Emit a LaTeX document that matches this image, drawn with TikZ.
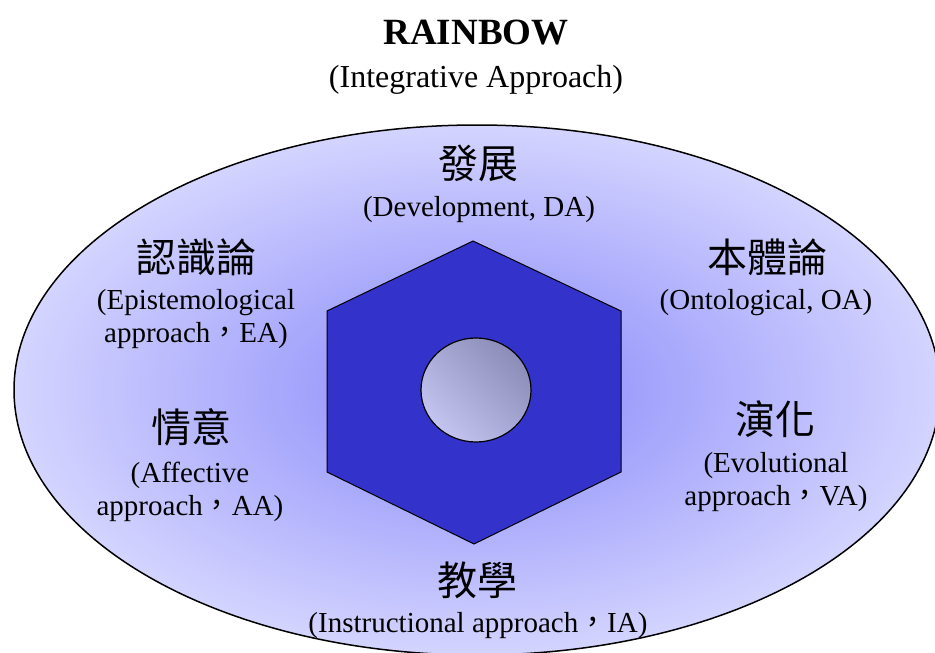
\documentclass[tikz,border=0pt]{standalone}
\usepackage{fontspec}
\setmainfont{Liberation Serif}
\newfontfamily\cjk{Noto Sans CJK TC}
\usetikzlibrary{positioning}

\definecolor{ringin}{RGB}{135,135,250}
\definecolor{ringout}{RGB}{212,212,255}
\definecolor{hexblue}{RGB}{51,51,204}
\definecolor{coreA}{RGB}{196,196,240}
\definecolor{coreB}{RGB}{140,140,184}

\begin{document}
\begin{tikzpicture}[x=1pt,y=-1pt,
    zh/.style={font=\cjk\fontsize{40}{42}\selectfont},
    en/.style={font=\fontsize{29}{33}\selectfont, align=center}]
  \useasboundingbox (0,0) rectangle (935,653);
  \clip (0,0) rectangle (935,653);
  % title
  \node (title) at (476,33) {\fontsize{37}{40}\selectfont\bfseries RAINBOW};
  \node (subtitle) at (476,80) {\fontsize{32}{36}\selectfont (Integrative Approach)};
  % outer ring and hexagon
  \draw[line width=1.5pt, inner color=ringin, outer color=ringout] (477,390) ellipse (463 and 265);
  \draw[line width=1pt, fill=hexblue] (473,241) -- (621,311) -- (621,472) -- (474,544) -- (327,472) -- (327,311) -- cycle;
  \draw[line width=1.2pt, top color=coreB, bottom color=coreA, shading angle=-45] (476,390) ellipse (55 and 52);
  % labels
  \node[zh] (dev) at (478,163) {發展};
  \node[en] (dev-en) at (479,210) {(Development, DA)};
  \node[zh] (epi) at (196,257) {認識論};
  \node[en] (epi-en) at (196,319) {(Epistemological\\approach{\cjk ，}EA)};
  \node[zh] (onto) at (767,257) {本體論};
  \node[en] (onto-en) at (766,303) {(Ontological, OA)};
  \node[zh] (aff) at (191,427) {情意};
  \node[en] (aff-en) at (190,492) {(Affective\\approach{\cjk ，}AA)};
  \node[zh] (evo) at (775,419) {演化};
  \node[en] (evo-en) at (776,482) {(Evolutional\\approach{\cjk ，}VA)};
  \node[zh] (ins) at (477,580) {教學};
  \node[en] (ins-en) at (478,626) {(Instructional approach{\cjk ，}IA)};
\end{tikzpicture}
\end{document}
